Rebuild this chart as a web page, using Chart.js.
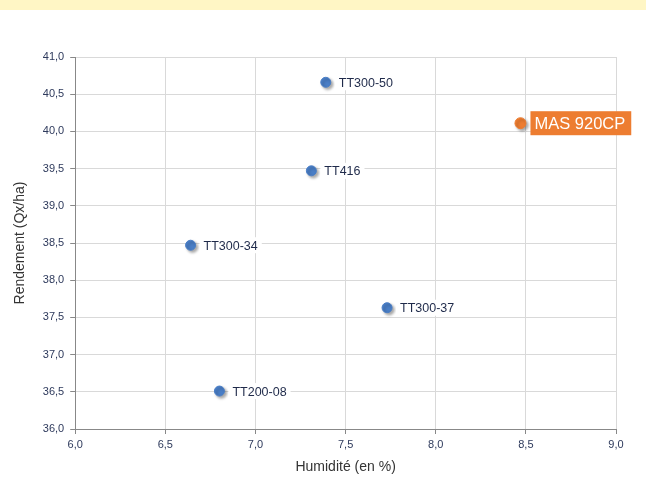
<!DOCTYPE html>
<html>
<head>
<meta charset="utf-8">
<script src="https://cdn.jsdelivr.net/npm/chart.js@4"></script>
<style>
  html, body { margin: 0; padding: 0; background: #fff; }
  #band { height: 10px; background: #FFF6C5; }
  #wrap { width: 646px; height: 470px; }
</style>
</head>
<body>
<div id="band"></div>
<div id="wrap"><canvas id="chart"></canvas></div>
<script>
const names = ["TT300-50", "TT416", "TT300-34", "TT300-37", "TT200-08"];
const humidite = [7.39, 7.31, 6.64, 7.73, 6.80];
const rendement = [40.66, 39.47, 38.47, 37.63, 36.51];

const highlightName = "MAS 920CP";
const highlightX = 8.47;
const highlightY = 40.11;

const xTicks = [6.0, 6.5, 7.0, 7.5, 8.0, 8.5, 9.0];
const yTicks = [36.0, 36.5, 37.0, 37.5, 38.0, 38.5, 39.0, 39.5, 40.0, 40.5, 41.0];

const fmt = v => v.toFixed(1).replace(".", ",");

const shadowPlugin = {
  id: "shadow",
  beforeDatasetsDraw(chart) {
    const ctx = chart.ctx;
    ctx.save();
    ctx.shadowColor = "rgba(0,0,0,0.35)";
    ctx.shadowBlur = 3;
    ctx.shadowOffsetX = 2;
    ctx.shadowOffsetY = 2;
  },
  afterDatasetsDraw(chart) {
    chart.ctx.restore();
  }
};

const labelPlugin = {
  id: "pointLabels",
  afterDatasetsDraw(chart) {
    const ctx = chart.ctx;
    ctx.save();
    ctx.textBaseline = "middle";
    chart.data.datasets.forEach((ds, di) => {
      const meta = chart.getDatasetMeta(di);
      meta.data.forEach((pt, i) => {
        const txt = ds.labels[i];
        if (ds.highlight) {
          ctx.font = "16.5px 'Liberation Sans', Arial, sans-serif";
          const w = ctx.measureText(txt).width;
          ctx.fillStyle = "#ED7D31";
          ctx.fillRect(pt.x + 10, pt.y - 12, w + 10, 24);
          ctx.fillStyle = "#fff";
          ctx.fillText(txt, pt.x + 14, pt.y + 1);
        } else {
          ctx.font = "12.5px 'Liberation Sans', Arial, sans-serif";
          const w = ctx.measureText(txt).width;
          ctx.fillStyle = "#fff";
          ctx.fillRect(pt.x + 9, pt.y - 8, w + 8, 16);
          ctx.fillStyle = "#1F2A4A";
          ctx.fillText(txt, pt.x + 13, pt.y + 1);
        }
      });
    });
    ctx.restore();
  }
};

new Chart(document.getElementById("chart"), {
  type: "scatter",
  data: {
    datasets: [
      {
        data: humidite.map((x, i) => ({ x: x, y: rendement[i] })),
        labels: names,
        backgroundColor: "#4A7EC6",
        borderColor: "#4A7EC6",
        pointRadius: 5,
        pointHoverRadius: 5
      },
      {
        data: [{ x: highlightX, y: highlightY }],
        labels: [highlightName],
        highlight: true,
        backgroundColor: "#ED7D31",
        borderColor: "#ED7D31",
        pointRadius: 5.5,
        pointHoverRadius: 5.5
      }
    ]
  },
  options: {
    responsive: true,
    maintainAspectRatio: false,
    animation: false,
    layout: { padding: { top: 47, right: 30, left: 8, bottom: 0 } },
    plugins: {
      legend: { display: false },
      tooltip: { enabled: false }
    },
    scales: {
      x: {
        min: 6, max: 9,
        afterBuildTicks: axis => { axis.ticks = xTicks.map(v => ({ value: v })); },
        ticks: {
          callback: v => fmt(v),
          color: "#2E3A5C",
          font: { size: 11, family: "'Liberation Sans', Arial, sans-serif" },
          padding: 4
        },
        grid: { color: "#D9D9D9", tickColor: "#888", tickLength: 5 },
        border: { color: "#888" },
        title: {
          display: true,
          text: "Humidité (en %)",
          color: "#333",
          font: { size: 14, family: "'Liberation Sans', Arial, sans-serif" },
          padding: { top: 4 }
        }
      },
      y: {
        min: 36, max: 41,
        afterBuildTicks: axis => { axis.ticks = yTicks.map(v => ({ value: v })); },
        ticks: {
          callback: v => fmt(v),
          color: "#2E3A5C",
          font: { size: 11, family: "'Liberation Sans', Arial, sans-serif" },
          padding: 6
        },
        grid: { color: "#D9D9D9", tickColor: "#888", tickLength: 5 },
        border: { color: "#888" },
        title: {
          display: true,
          text: "Rendement (Qx/ha)",
          color: "#333",
          font: { size: 14, family: "'Liberation Sans', Arial, sans-serif" },
          padding: { bottom: 8 }
        }
      }
    }
  },
  plugins: [shadowPlugin, labelPlugin]
});
</script>
</body>
</html>
